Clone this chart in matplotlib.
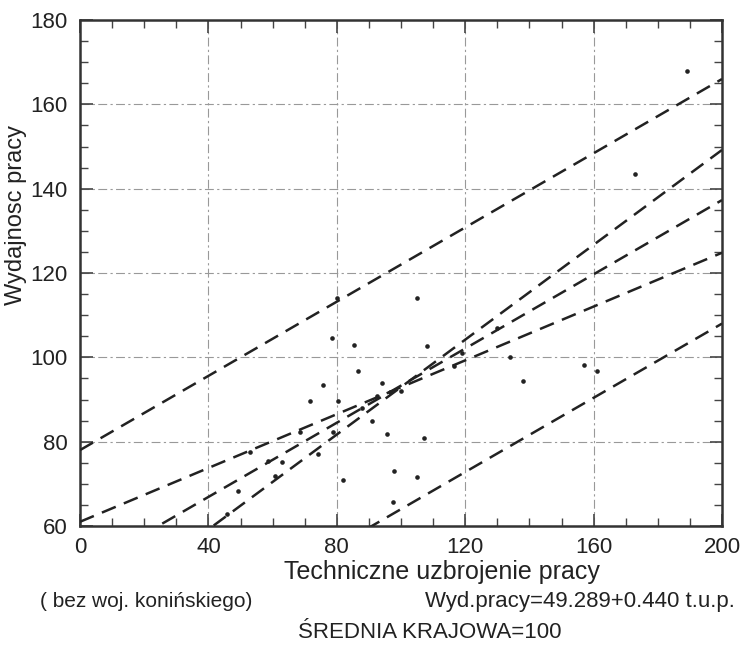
import numpy as np
import matplotlib
matplotlib.use("Agg")
import matplotlib.pyplot as plt
from matplotlib.ticker import MultipleLocator
from matplotlib import font_manager

names = {f.name for f in font_manager.fontManager.ttflist}
narrow = [n for n in ['Liberation Sans Narrow', 'DejaVu Sans Condensed'] if n in names]
plt.rcParams['font.family'] = narrow + ['Liberation Sans', 'DejaVu Sans']
plt.rcParams['font.stretch'] = 'condensed'

# punkty (technical equipment vs productivity)
tech = [189, 173, 80, 105, 78.5, 85.5, 108, 75.7, 86.6, 116.5, 119, 130,
        134, 157, 161, 138, 71.7, 80.4, 68.5, 78.8, 53, 58.6, 63, 74,
        49.2, 45.8, 82, 60.7, 96.6, 91, 95.6, 107.2, 97.8, 105, 97.5,
        94, 92.5, 88, 100]
wyd = [168, 143.5, 114, 114, 104.5, 103, 102.6, 93.4, 96.7, 97.9, 101, 107,
       100, 98.3, 96.7, 94.3, 89.6, 89.6, 82.2, 82.2, 77.5, 75.4, 75.1, 77,
       68.3, 62.8, 71, 71.8, 91.7, 84.9, 81.8, 80.8, 73, 71.6, 65.7,
       94, 90.8, 88, 92]

# dashed lines: intercept, slope
line_a = [78.0, 61.0, 49.289, 36.7, 20.0]
line_b = [0.44, 0.319, 0.440, 0.5624, 0.44]

x_ticks = [0, 40, 80, 120, 160, 200]
y_ticks = [60, 80, 100, 120, 140, 160, 180]

fig = plt.figure(figsize=(7.45, 6.47), dpi=100)
ax = fig.add_axes([80 / 745, 1 - 526 / 647, 642 / 745, 506 / 647])

xs = np.array([0, 200])
for a, b in zip(line_a, line_b):
    ax.plot(xs, a + b * xs, color='#222222', lw=1.8, ls=(0, (6, 3.5)), zorder=3)

ax.scatter(tech, wyd, s=11, color='#222222', zorder=4, linewidths=0)

ax.set_xlim(0, 200)
ax.set_ylim(60, 180)
ax.set_xticks(x_ticks)
ax.set_yticks(y_ticks)
ax.xaxis.set_minor_locator(MultipleLocator(10))
ax.yaxis.set_minor_locator(MultipleLocator(5))
ax.tick_params(which='both', direction='in', top=True, right=True,
               color='#444444', labelsize=16, labelcolor='#222222')
ax.tick_params(which='major', length=9, width=1.2)
ax.tick_params(which='minor', length=6, width=1.0)
ax.tick_params(axis='x', pad=8)
ax.tick_params(axis='y', pad=9)
for s in ax.spines.values():
    s.set_linewidth(1.8)
    s.set_color('#333333')

ax.grid(True, which='major', color='#999999', lw=0.8, ls=(0, (8, 3, 2, 3)))

fig.text(0.022, 0.668, 'Wydajnosc pracy', rotation=90, ha='center', va='center',
         fontsize=17, color='#222222')
fig.text(0.593, 0.116, 'Techniczne uzbrojenie pracy', ha='center', va='center',
         fontsize=18, color='#222222')
fig.text(0.054, 0.0696, '( bez woj. konińskiego)', ha='left', va='center',
         fontsize=15, color='#222222')
fig.text(0.987, 0.0696, 'Wyd.pracy=49.289+0.440 t.u.p.', ha='right', va='center',
         fontsize=16, color='#222222')
fig.text(0.577, 0.023, 'ŚREDNIA KRAJOWA=100', ha='center', va='center',
         fontsize=16, color='#222222')

fig.savefig('out.png', dpi=100)
